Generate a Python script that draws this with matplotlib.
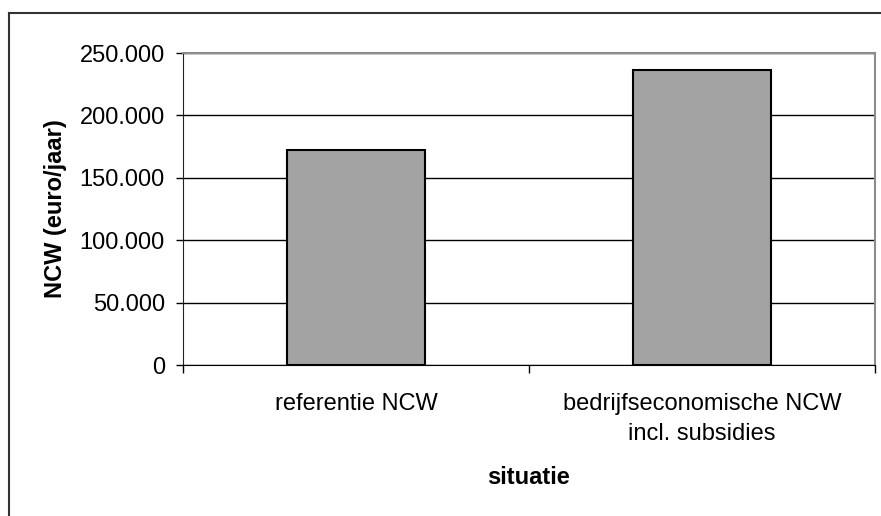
import matplotlib.pyplot as plt
from matplotlib.lines import Line2D
from matplotlib.ticker import FuncFormatter

# NCW per situatie (euro/jaar)
situaties = ['referentie NCW', 'bedrijfseconomische NCW\nincl. subsidies']
ncw = [172000, 236000]
y_ticks = [0, 50000, 100000, 150000, 200000, 250000]

plt.rcParams['font.family'] = ['Liberation Sans', 'DejaVu Sans']

fig = plt.figure(figsize=(8.81, 5.16), dpi=100)
ax = fig.add_axes([183 / 881, 1 - 365 / 516, 692 / 881, 312 / 516])

x = range(len(situaties))
ax.bar(x, ncw, width=0.4, color='#a3a3a3', edgecolor='black', linewidth=1.5, zorder=3)

ax.set_xlim(-0.5, 1.5)
ax.set_ylim(0, 250000)
ax.set_yticks(y_ticks)
ax.yaxis.set_major_formatter(FuncFormatter(lambda v, p: f'{int(v):,}'.replace(',', '.')))
ax.grid(axis='y', color='black', linewidth=1, zorder=0)

# categorie-scheiding ticks op de x-as
ax.set_xticks([-0.5, 0.5, 1.5])
ax.set_xticklabels([])
ax.tick_params(axis='x', direction='out', length=6, width=1, color='black')
for xi, lab in zip(x, situaties):
    ax.text(xi, -0.09, lab, transform=ax.get_xaxis_transform(), ha='center', va='top',
            fontsize=17, linespacing=1.45)

ax.tick_params(axis='y', direction='out', length=5, width=1, labelsize=17, pad=8, color='black')

for s in ['top', 'right']:
    ax.spines[s].set_color('#8c8c8c')
    ax.spines[s].set_linewidth(1.5)
ax.spines['left'].set_color('#222222')
ax.spines['bottom'].set_color('black')

ax.set_ylabel('NCW (euro/jaar)', fontsize=17, fontweight='bold')
ax.yaxis.set_label_coords(-0.168, 0.5)
ax.set_xlabel('situatie', fontsize=17, fontweight='bold')
ax.xaxis.set_label_coords(0.5, -0.36)
ax.xaxis.label.set_va('center')

# kader van de grafiek
fig.add_artist(Line2D([9 / 881, 9 / 881], [0, 1 - 13 / 516], color='#333333', linewidth=1.5))
fig.add_artist(Line2D([9 / 881, 1], [1 - 13 / 516, 1 - 13 / 516], color='#333333', linewidth=1.5))

fig.savefig('out.png', dpi=100)
